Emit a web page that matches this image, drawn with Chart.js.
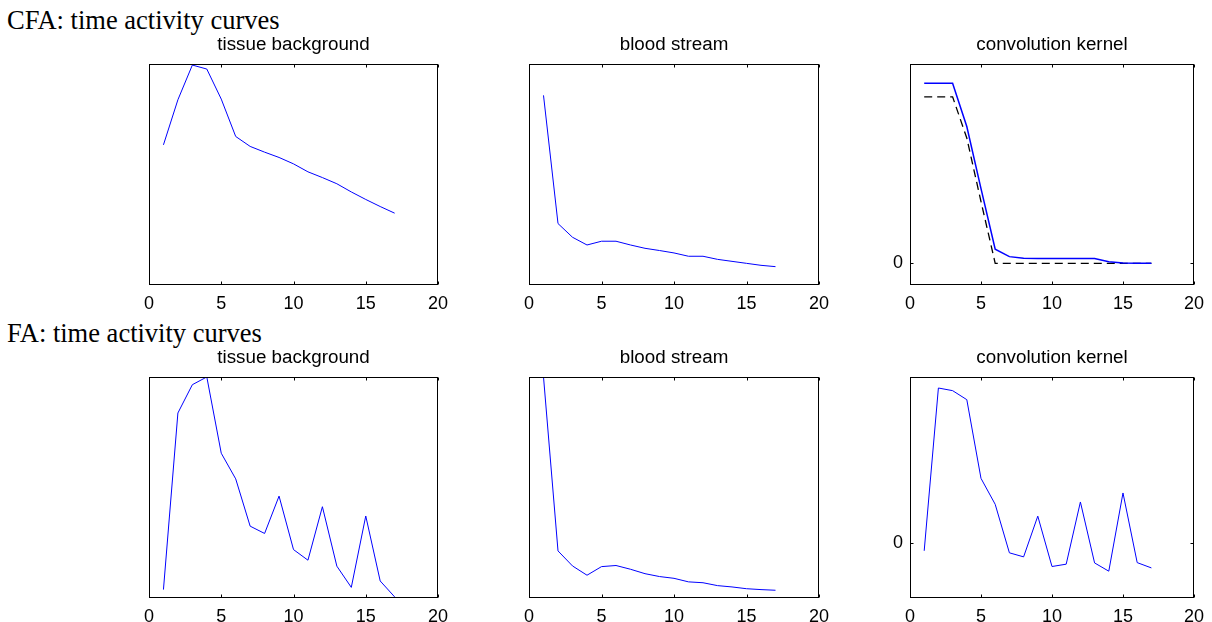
<!DOCTYPE html>
<html>
<head>
<meta charset="utf-8">
<script src="https://cdn.jsdelivr.net/npm/chart.js@4"></script>
<style>
  html, body { margin: 0; padding: 0; background: #fff; overflow: hidden; }
  body { width: 1212px; height: 622px; position: relative; }
  .rowtitle { position: absolute; left: 7px; font-family: 'Liberation Serif', 'Times New Roman', serif; font-size: 26.5px; line-height: 26px; color: #000; white-space: nowrap; }
  .panel { position: absolute; }
</style>
</head>
<body>
<div class="rowtitle" style="top:6.5px">CFA: time activity curves</div>
<div class="rowtitle" style="top:320px">FA: time activity curves</div>

<script>
// frame numbers (x)
const frames = [1, 2, 3, 4, 5, 6, 7, 8, 9, 10, 11, 12, 13, 14, 15, 16, 17];
const xTicks = [0, 5, 10, 15, 20];

// CFA (top row), arbitrary units
const cfaTissue = [63.4, 83.8, 99.5, 97.7, 84.1, 67.2, 62.7, 60.1, 57.7, 54.8, 51.2, 48.6, 45.8, 42.1, 38.7, 35.5, 32.5];
const cfaBlood  = [85.8, 27.8, 21.6, 18.1, 19.8, 19.8, 18.1, 16.6, 15.6, 14.5, 13.0, 13.0, 11.6, 10.7, 9.8, 8.9, 8.3];
const cfaKernel = [1.0, 1.0, 1.0, 0.76, 0.415, 0.078, 0.037, 0.028, 0.026, 0.026, 0.026, 0.026, 0.026, 0.009, 0.002, 0, 0];
const cfaKernelRef = [0.925, 0.925, 0.925, 0.696, 0.343, 0, 0, 0, 0, 0, 0, 0, 0, 0, 0, 0, 0];

// FA (bottom row)
const faTissue = [3.8, 83.7, 96.5, 100, 65.5, 53.9, 32.5, 29.2, 46.1, 21.9, 17.1, 41.3, 14.4, 4.8, 37.1, 7.7, 0.5];
const faBlood  = [100, 21.3, 14.5, 10.3, 14.2, 14.7, 13.0, 11.0, 9.7, 8.9, 7.3, 6.9, 5.6, 5.0, 4.2, 3.8, 3.5];
const faKernel = [-0.047, 1.0, 0.983, 0.925, 0.419, 0.252, -0.060, -0.086, 0.176, -0.148, -0.133, 0.267, -0.125, -0.178, 0.325, -0.123, -0.157];

const titles = ['tissue background', 'blood stream', 'convolution kernel'];

Chart.defaults.font.family = "'Liberation Sans', Arial, Helvetica, sans-serif";
Chart.defaults.color = '#000';

const toPts = arr => frames.map((f, i) => ({ x: f, y: arr[i] }));

// box frame + inward ticks, matlab style
const boxPlugin = {
    id: 'boxPlugin',
    afterDatasetsDraw(chart) {
        const { ctx, chartArea: a, scales } = chart;
        const L = Math.round(a.left) + 0.5, R = Math.round(a.right) - 0.5;
        const T = Math.round(a.top) + 0.5, B = Math.round(a.bottom) - 0.5;
        ctx.save();
        ctx.strokeStyle = '#000'; ctx.lineWidth = 1;
        ctx.strokeRect(L, T, R - L, B - T);
        ctx.beginPath();
        xTicks.forEach(v => {
            const px = Math.round(scales.x.getPixelForValue(v)) + 0.5;
            ctx.moveTo(px, B); ctx.lineTo(px, B - 3);
            ctx.moveTo(px, T); ctx.lineTo(px, T + 3);
        });
        if (chart.options.showZero) {
            const py = Math.round(scales.y.getPixelForValue(0)) + 0.5;
            ctx.moveTo(L, py); ctx.lineTo(L + 3, py);
            ctx.moveTo(R, py); ctx.lineTo(R - 3, py);
        }
        ctx.stroke();
        ctx.restore();
    }
};

const panels = [
    { left: 149, top: 64, w: 289, h: 221, title: titles[0], ymin: 0, ymax: 100, sets: [[cfaTissue, '#0000ff', 1, []]] },
    { left: 529, top: 64, w: 290, h: 221, title: titles[1], ymin: 0, ymax: 100, sets: [[cfaBlood, '#0000ff', 1, []]] },
    { left: 910, top: 64, w: 289, h: 221, title: titles[2], ymin: -0.1206, ymax: 1.1076, zero: true,
      sets: [[cfaKernel, '#0000ff', 1.5, []], [cfaKernelRef, '#000000', 1.3, [8, 5]]] },
    { left: 149, top: 377, w: 289, h: 221, title: titles[0], ymin: 0, ymax: 100, sets: [[faTissue, '#0000ff', 1, []]] },
    { left: 529, top: 377, w: 290, h: 221, title: titles[1], ymin: 0, ymax: 100, sets: [[faBlood, '#0000ff', 1, []]] },
    { left: 910, top: 377, w: 289, h: 221, title: titles[2], ymin: -0.3505, ymax: 1.071, zero: true, sets: [[faKernel, '#0000ff', 1, []]] }
];

const YW = 40, TOPH = 36, XH = 30;

panels.forEach((p, k) => {
    const padR = Math.min(20, 1212 - (p.left + p.w));
    const div = document.createElement('div');
    div.className = 'panel';
    div.style.left = (p.left - YW) + 'px';
    div.style.top = (p.top - TOPH) + 'px';
    div.style.width = (YW + p.w + padR) + 'px';
    div.style.height = (TOPH + p.h + XH) + 'px';
    const cv = document.createElement('canvas');
    div.appendChild(cv);
    document.body.appendChild(div);

    new Chart(cv, {
        type: 'line',
        data: {
            datasets: p.sets.map(s => ({
                data: toPts(s[0]), borderColor: s[1], borderWidth: s[2], borderDash: s[3],
                pointRadius: 0, tension: 0, fill: false
            }))
        },
        options: {
            responsive: true, maintainAspectRatio: false, animation: false,
            showZero: !!p.zero,
            layout: { padding: { left: 0, right: padR, top: 0, bottom: 0 } },
            plugins: {
                legend: { display: false }, tooltip: { enabled: false },
                title: { display: true, text: p.title, fullSize: false, font: { size: 18.8, weight: 'normal' }, color: '#000',
                         padding: { top: 5.2, bottom: 8.2 } }
            },
            scales: {
                x: {
                    type: 'linear', min: 0, max: 20,
                    afterBuildTicks: sc => { sc.ticks = xTicks.map(v => ({ value: v })); },
                    afterFit: sc => { sc.height = XH; },
                    grid: { display: false, drawTicks: false }, border: { display: false },
                    ticks: { font: { size: 18 }, color: '#000', padding: 8, maxRotation: 0 }
                },
                y: {
                    type: 'linear', min: p.ymin, max: p.ymax,
                    afterBuildTicks: sc => { sc.ticks = p.zero ? [{ value: 0 }] : []; },
                    afterFit: sc => { sc.width = YW; },
                    grid: { display: false, drawTicks: false }, border: { display: false },
                    ticks: { display: !!p.zero, font: { size: 18 }, color: '#000', padding: 7 }
                }
            }
        },
        plugins: [boxPlugin]
    });
});
</script>
</body>
</html>
